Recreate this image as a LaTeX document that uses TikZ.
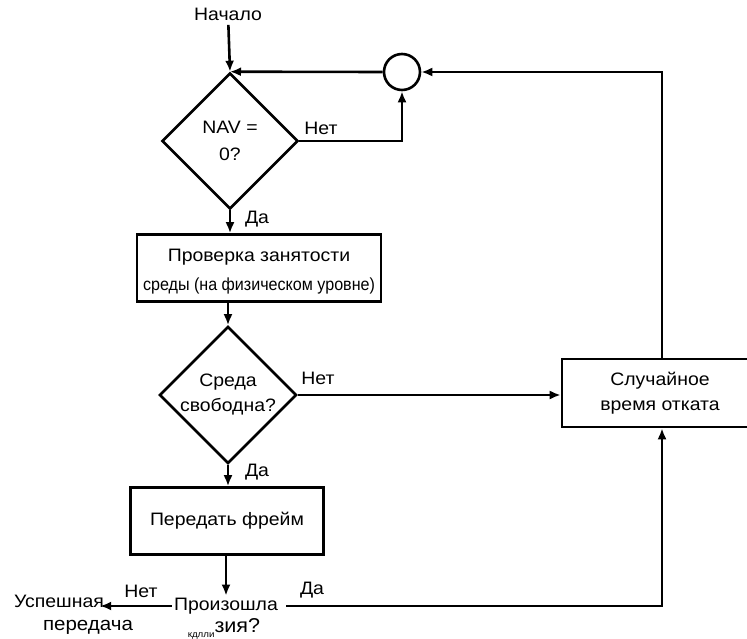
\documentclass[tikz,border=0pt]{standalone}
\usepackage{fontspec}
\setmainfont{Liberation Sans}
\newfontfamily\widefont{Liberation Sans}[FakeStretch=1.08]
\newfontfamily\narrowfont{Liberation Sans}[FakeStretch=0.92]
\usetikzlibrary{arrows.meta,positioning,shapes.geometric}

\begin{document}
\begin{tikzpicture}[x=1pt, y=-1pt, line width=2.6pt,
    font=\widefont\fontsize{18}{25}\selectfont,
    flow/.style={-{Latex[length=11pt, width=9pt]}},
    block/.style={draw, rectangle, align=center, inner sep=0pt},
    decision/.style={draw, diamond, aspect=1, minimum width=136pt,
                     minimum height=136pt, inner sep=0pt, align=center},
    lbl/.style={inner sep=1pt}]
  \clip (0,0) rectangle (747,639);
  \node (start) at (228,14) {Начало};
  \node[decision] (nav) at (230,141) {NAV =\\[2pt]0?};
  \node[draw, circle, minimum size=36pt, inner sep=0pt] (join) at (402,72) {};
  \node[block, minimum width=244pt, minimum height=67pt] (sense) at (259,268)
    {\rule{0pt}{20pt}Проверка занятости\\[4pt]{\narrowfont\fontsize{17.5}{20}\selectfont среды (на физическом уровне)}};
  \node[decision] (free) at (228,395) {Среда\\свободна?};
  \node[block, minimum width=200pt, minimum height=68pt] (backoff) at (662,393)
    {\hspace*{-4pt}Случайное\\\hspace*{-4pt}время отката};
  \node[block, minimum width=193pt, minimum height=67pt] (send) at (227,521) {Передать фрейм};
  \node[inner sep=1pt] (coll) at (226,606) {Произошла};
  \node[inner sep=1pt] (coll2) at (224,629)
    {\raisebox{-5pt}{\fontsize{9}{9}\selectfont кдлли}\fontsize{20}{20}\selectfont зия?};
  \node[inner sep=1pt] (succ) at (59,601) {Успешная};
  \node[inner sep=1pt, font=\widefont\fontsize{19}{20}\selectfont] (succ2) at (88,627) {передача};
  % connectors
  \draw[flow] (start) -- (nav.north);
  \draw[flow] (nav.east) -- (nav.east -| join.south) -- (join.south);
  \draw[flow] (join.west) -- (nav.north);
  \draw[flow] (backoff.north) |- (join.east);
  \draw[flow] (nav.south) -- (nav.south |- sense.north);
  \draw[flow] (free.north |- sense.south) -- (free.north);
  \draw[flow] (free.east) -- (free.east -| backoff.west);
  \draw[flow] (free.south) -- (send.north -| free.south);
  \draw[flow] (send.south -| coll.north) -- (coll.north);
  \draw[flow] (coll.west) -- ([xshift=-6pt]coll.west -| succ.east);
  \draw[flow] ([xshift=6pt]coll.east) -| (backoff.south);
  % labels
  \node[lbl] at (321,128) {Нет};
  \node[lbl] at (257,219) {Да};
  \node[lbl] at (318,378) {Нет};
  \node[lbl] at (257,472) {Да};
  \node[lbl] at (141,591) {Нет};
  \node[lbl] at (312,590) {Да};
\end{tikzpicture}
\end{document}
